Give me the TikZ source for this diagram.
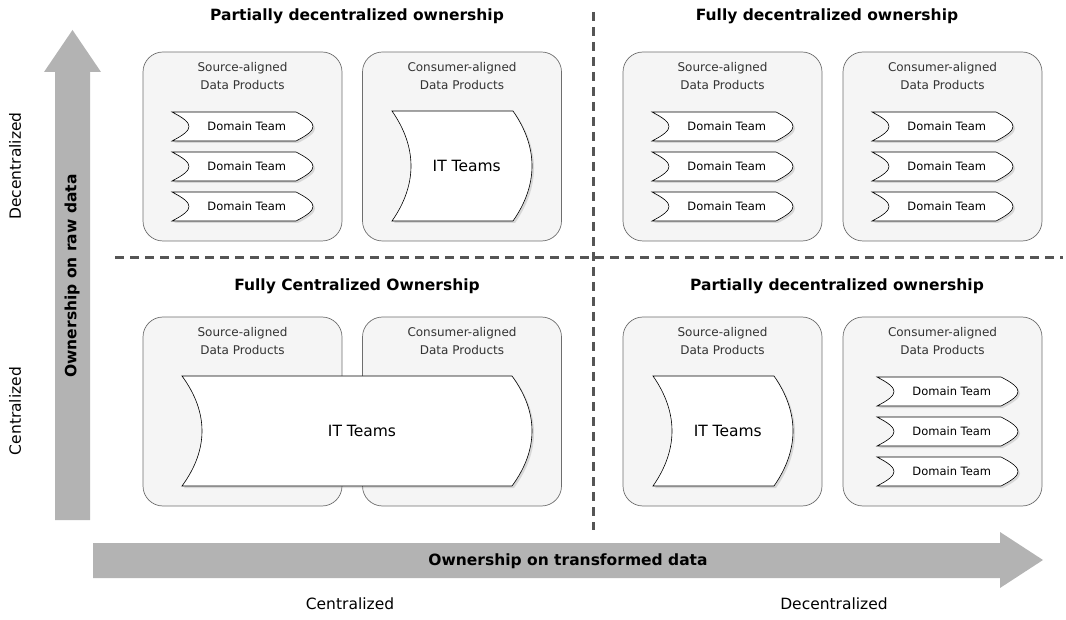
\documentclass[tikz,border=0pt]{standalone}
\usepackage{fontspec}
\setmainfont{DejaVu Sans}
\usetikzlibrary{shadows}
\definecolor{axis}{HTML}{B3B3B3}
\definecolor{divider}{HTML}{555555}
\definecolor{panel}{HTML}{F5F5F5}
\definecolor{panelline}{HTML}{6E6E6E}
\definecolor{ink}{HTML}{333333}

\tikzset{
  panel/.style={fill=panel, draw=panelline, line width=0.7pt, rounded corners=20pt,
    minimum width=199pt, minimum height=189pt},
  paneltext/.style={font=\fontsize{12}{18}\selectfont\color{ink}, align=center},
  card/.style={fill=white, draw=black, line width=0.6pt,
    drop shadow={opacity=0.25, shadow xshift=2pt, shadow yshift=-2pt}},
  cardtext/.style={font=\fontsize{11.5}{13}\selectfont},
  quadtitle/.style={font=\fontsize{15.5}{17}\selectfont\bfseries},
  axistext/.style={font=\fontsize{15.5}{17}\selectfont},
  dividerline/.style={draw=divider, line width=3pt, dash pattern=on 9pt off 6pt}
}

% [#1 control height], #2 name, #3 left, #4 top, #5 right, #6 bottom, #7 curve depth, #8 text
\newcommand{\teamcard}[8][0.4]{%
  \path[card] (#3,#4) -- ({#5-#7},#4)
    .. controls ({#5+#7/3},{#4+#1*(#6-#4)}) and ({#5+#7/3},{#6-#1*(#6-#4)}) .. ({#5-#7},#6) -- (#3,#6)
    .. controls ({#3+4*#7/3},{#6-#1*(#6-#4)}) and ({#3+4*#7/3},{#4+#1*(#6-#4)}) .. (#3,#4) -- cycle;
  \node[cardtext] (#2) at ({(#3+#5)/2+#7/4},{(#4+#6)/2}) {#8};
}

\begin{document}
\begin{tikzpicture}[x=1pt, y=-1pt]
  \useasboundingbox (0,0) rectangle (1066,620);
  % Axes
  \fill[axis] (55,520) -- (55,72) -- (44,72) -- (72.5,30) -- (101,72) -- (90,72) -- (90,520) -- cycle;
  \fill[axis] (93,543) -- (1000,543) -- (1000,532) -- (1043,560) -- (1000,588) -- (1000,578) -- (93,578) -- cycle;
  \node[axistext, font=\fontsize{15.5}{17}\selectfont\bfseries, rotate=90] (rawaxis) at (72,276) {Ownership on raw data};
  \node[axistext, font=\fontsize{15.5}{17}\selectfont\bfseries] (transaxis) at (568,561) {Ownership on transformed data};
  \node[axistext, rotate=90] (rawdec) at (15,166) {Decentralized};
  \node[axistext, rotate=90] (rawcen) at (15,411) {Centralized};
  \node[axistext] (transcen) at (350,604) {Centralized};
  \node[axistext] (transdec) at (834,604) {Decentralized};
  % Dividers
  \draw[dividerline] (593,12) -- (593,530);
  \draw[dividerline] (115,258) -- (1063,258);
  % Quadrant titles
  \node[quadtitle] (ttlTL) at (357,16) {Partially decentralized ownership};
  \node[quadtitle] (ttlTR) at (827,16) {Fully decentralized ownership};
  \node[quadtitle] (ttlBL) at (357,286) {Fully Centralized Ownership};
  \node[quadtitle] (ttlBR) at (837,286) {Partially decentralized ownership};
  % Panels
  \node[panel] (srcTL) at (242.5,146.5) {};
  \node[panel] (conTL) at (462,146.5) {};
  \node[panel] (srcTR) at (722.5,146.5) {};
  \node[panel] (conTR) at (942.5,146.5) {};
  \node[panel] (srcBL) at (242.5,411.5) {};
  \node[panel] (conBL) at (462,411.5) {};
  \node[panel] (srcBR) at (722.5,411.5) {};
  \node[panel] (conBR) at (942.5,411.5) {};
  \node[paneltext] (srcTLlbl) at (242.5,76) {Source-aligned\\Data Products};
  \node[paneltext] (conTLlbl) at (462,76) {Consumer-aligned\\Data Products};
  \node[paneltext] (srcTRlbl) at (722.5,76) {Source-aligned\\Data Products};
  \node[paneltext] (conTRlbl) at (942.5,76) {Consumer-aligned\\Data Products};
  \node[paneltext] (srcBLlbl) at (242.5,341) {Source-aligned\\Data Products};
  \node[paneltext] (conBLlbl) at (462,341) {Consumer-aligned\\Data Products};
  \node[paneltext] (srcBRlbl) at (722.5,341) {Source-aligned\\Data Products};
  \node[paneltext] (conBRlbl) at (942.5,341) {Consumer-aligned\\Data Products};
  % Teams
  \foreach \yy [count=\i] in {112,152,192} {
    \teamcard{dtTL\i}{172}{\yy}{313}{\yy+29}{17}{Domain Team}
    \teamcard{dtTRa\i}{652}{\yy}{793}{\yy+29}{17}{Domain Team}
    \teamcard{dtTRb\i}{872}{\yy}{1013}{\yy+29}{17}{Domain Team}
  }
  \foreach \yy [count=\i] in {377,417,457} {
    \teamcard{dtBR\i}{877}{\yy}{1018}{\yy+29}{17}{Domain Team}
  }
  \teamcard[0.33]{itTL}{392}{111}{532}{221}{19}{\fontsize{15.5}{17}\selectfont IT Teams}
  \teamcard[0.33]{itBL}{182}{376}{532}{486}{20}{\fontsize{15.5}{17}\selectfont IT Teams}
  \teamcard[0.33]{itBR}{653}{376}{793}{486}{19}{\fontsize{15.5}{17}\selectfont IT Teams}
\end{tikzpicture}
\end{document}
